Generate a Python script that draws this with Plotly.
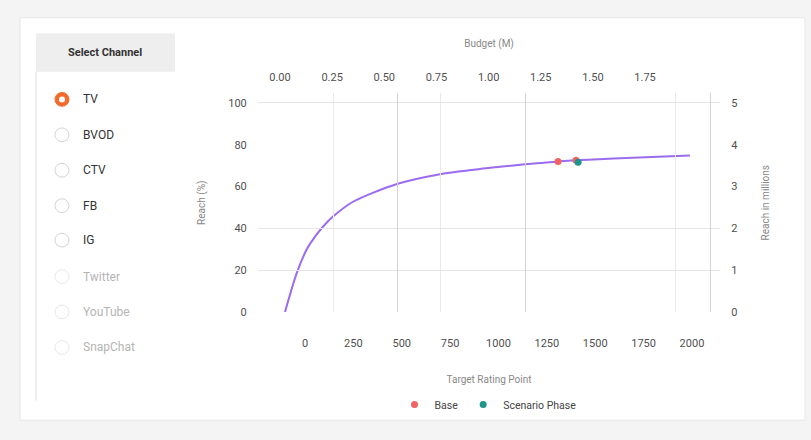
import plotly.graph_objects as go

W, H = 811, 440

# Channel selector entries
channels = ["TV", "BVOD", "CTV", "FB", "IG", "Twitter", "YouTube", "SnapChat"]
channel_enabled = [True, True, True, True, True, False, False, False]
selected_channel = "TV"

# Reach curve: budget (M) vs reach (%)
budget_m = [0.024, 0.081, 0.129, 0.158, 0.177, 0.208, 0.254, 0.350, 0.561,
            0.767, 0.959, 1.055, 1.175, 1.333, 1.424, 1.600, 1.965]
reach_pct = [0.0, 18.8, 30.1, 34.6, 37.2, 41.0, 45.6, 52.7, 61.2,
             65.9, 68.4, 69.4, 70.6, 72.0, 72.5, 73.4, 74.8]

# Highlighted plans
base_budget = [1.333, 1.419]
base_reach = [72.0, 72.5]
scenario_budget = [1.429]
scenario_reach = [71.6]

# Axis ticks
trp_ticks = [0, 250, 500, 750, 1000, 1250, 1500, 1750, 2000]
budget_ticks = [0.0, 0.25, 0.5, 0.75, 1.0, 1.25, 1.5, 1.75]
reach_pct_ticks = [0, 20, 40, 60, 80, 100]
reach_mil_ticks = [0, 1, 2, 3, 4, 5]

FONT = "Roboto, 'Open Sans', sans-serif"
TICK = dict(family=FONT, size=11, color="#505050")
TITLE = dict(family=FONT, size=10, color="#888888")


def px(x):
    return x / W


def py(y):
    return 1 - y / H


# Plot area in pixels
PL, PR, PT, PB = 258, 720, 95, 317

fig = go.Figure()

fig.add_trace(go.Scatter(
    x=budget_m, y=reach_pct, xaxis="x2", yaxis="y",
    mode="lines", line=dict(color="#9b6cf0", width=2, shape="spline", smoothing=0.8),
    showlegend=False, hoverinfo="skip"))

fig.add_trace(go.Scatter(
    x=base_budget, y=base_reach, xaxis="x2", yaxis="y",
    mode="markers", name="Base",
    marker=dict(color="#f26363", size=7)))

fig.add_trace(go.Scatter(
    x=scenario_budget, y=scenario_reach, xaxis="x2", yaxis="y",
    mode="markers", name="Scenario Phase",
    marker=dict(color="#1f9488", size=7)))

# Invisible traces to activate helper axes
fig.add_trace(go.Scatter(x=[None], y=[None], xaxis="x", yaxis="y2", showlegend=False))
fig.add_trace(go.Scatter(x=[None], y=[None], xaxis="x3", yaxis="y3", showlegend=False))
fig.add_trace(go.Scatter(x=[None], y=[None], xaxis="x4", yaxis="y3", showlegend=False))

dom_x = [px(PL), px(PR)]
dom_y = [py(PB), py(PT)]

# Bottom axis: Target Rating Point
trp_per_px = 1 / 0.19347
trp_range = [(PL - 305) * trp_per_px, (PR - 305) * trp_per_px]
# Top axis: Budget (M)
bud_per_px = 1 / 208.6
bud_range = [(PL - 280) * bud_per_px, (PR - 280) * bud_per_px]
reach_top = (PB - PT) / 2.125

fig.update_layout(
    width=W, height=H,
    margin=dict(l=0, r=0, t=0, b=0),
    paper_bgcolor="#f4f4f4",
    plot_bgcolor="rgba(0,0,0,0)",
    font=dict(family=FONT),
    xaxis=dict(
        domain=dom_x, range=trp_range, tickvals=trp_ticks,
        showgrid=False, zeroline=False, showline=False,
        ticks="outside", ticklen=21, tickcolor="rgba(0,0,0,0)",
        tickfont=TICK,
        title=dict(text="Target Rating Point", font=TITLE, standoff=26),
        anchor="y",
    ),
    xaxis2=dict(
        domain=dom_x, range=bud_range, tickvals=budget_ticks, tickformat=".2f",
        overlaying="x", side="top", anchor="y",
        showgrid=False, zeroline=False, showline=False,
        ticks="outside", ticklen=7, tickcolor="rgba(0,0,0,0)",
        tickfont=TICK,
        title=dict(text="Budget (M)", font=TITLE, standoff=21),
    ),
    # vertical grid helpers (pixel units)
    xaxis3=dict(
        domain=dom_x, range=[PL, PR], overlaying="x", anchor="y3",
        tickvals=[333, 440, 675], showticklabels=False, ticks="",
        showgrid=True, gridcolor="#e9e9e9", gridwidth=1, zeroline=False,
    ),
    xaxis4=dict(
        domain=dom_x, range=[PL, PR], overlaying="x", anchor="y3",
        tickvals=[397, 525, 710], showticklabels=False, ticks="",
        showgrid=True, gridcolor="#d2d2d2", gridwidth=1, zeroline=False,
    ),
    yaxis=dict(
        domain=dom_y, range=[0, reach_top], tickvals=reach_pct_ticks,
        showgrid=False, zeroline=False, showline=False,
        ticks="outside", ticklen=8, tickcolor="rgba(0,0,0,0)",
        tickfont=TICK, anchor="x",
        title=dict(text="Reach (%)", font=TITLE, standoff=20),
    ),
    yaxis2=dict(
        domain=dom_y, range=[0, reach_top / 20], tickvals=reach_mil_ticks,
        overlaying="y", side="right", anchor="x",
        showgrid=False, zeroline=False, showline=False,
        ticks="outside", ticklen=8, tickcolor="rgba(0,0,0,0)",
        tickfont=TICK,
        title=dict(text="Reach in millions", font=TITLE, standoff=25),
    ),
    # horizontal grid helper
    yaxis3=dict(
        domain=dom_y, range=[0, reach_top], overlaying="y", anchor="x3",
        tickvals=[0, 20, 40, 100], showticklabels=False, ticks="",
        showgrid=True, gridcolor="#e6e6e6", gridwidth=1, zeroline=False,
    ),
    legend=dict(
        orientation="h", x=px(488), xanchor="center", y=py(411), yanchor="middle",
        font=dict(family=FONT, size=10.5, color="#444444"),
        bgcolor="rgba(0,0,0,0)", itemwidth=30,
    ),
)

shapes = []
# white card
shapes.append(dict(type="rect", xref="paper", yref="paper",
                   x0=px(20), x1=px(805), y0=py(427), y1=py(18),
                   fillcolor="white", line=dict(color="#e6e6e6", width=1), layer="below"))
# selector header
shapes.append(dict(type="rect", xref="paper", yref="paper",
                   x0=px(36), x1=px(175), y0=py(73), y1=py(34),
                   fillcolor="#eeeeee", line=dict(width=0), layer="below"))
# selector left border
shapes.append(dict(type="line", xref="paper", yref="paper",
                   x0=px(36), x1=px(36), y0=py(407), y1=py(73),
                   line=dict(color="#dddddd", width=1), layer="below"))

annotations = [dict(text="<b>Select Channel</b>", x=px(105), y=py(53),
                    xref="paper", yref="paper", showarrow=False,
                    xanchor="center", yanchor="middle",
                    font=dict(family=FONT, size=11, color="#333333"))]

row_y = [101, 137, 173, 209, 244, 281, 317, 353]
for name, enabled, ry in zip(channels, channel_enabled, row_y):
    r = 7
    cx = 62
    if name == selected_channel:
        shapes.append(dict(type="circle", xref="paper", yref="paper",
                           x0=px(cx - r), x1=px(cx + r), y0=py(ry + r), y1=py(ry - r),
                           fillcolor="#f26b2d", line=dict(color="#f26b2d", width=1)))
        shapes.append(dict(type="circle", xref="paper", yref="paper",
                           x0=px(cx - 3), x1=px(cx + 3), y0=py(ry + 3), y1=py(ry - 3),
                           fillcolor="white", line=dict(width=0)))
    else:
        shapes.append(dict(type="circle", xref="paper", yref="paper",
                           x0=px(cx - r), x1=px(cx + r), y0=py(ry + r), y1=py(ry - r),
                           fillcolor="white",
                           line=dict(color="#d4d4d4" if enabled else "#e8e8e8", width=1)))
    annotations.append(dict(text=name, x=px(81), y=py(ry), xref="paper", yref="paper",
                            xanchor="left", yanchor="middle", showarrow=False,
                            font=dict(family=FONT, size=12,
                                      color="#333333" if enabled else "#b5b5b5")))

fig.update_layout(shapes=shapes, annotations=annotations)

fig.write_html("out.html")
